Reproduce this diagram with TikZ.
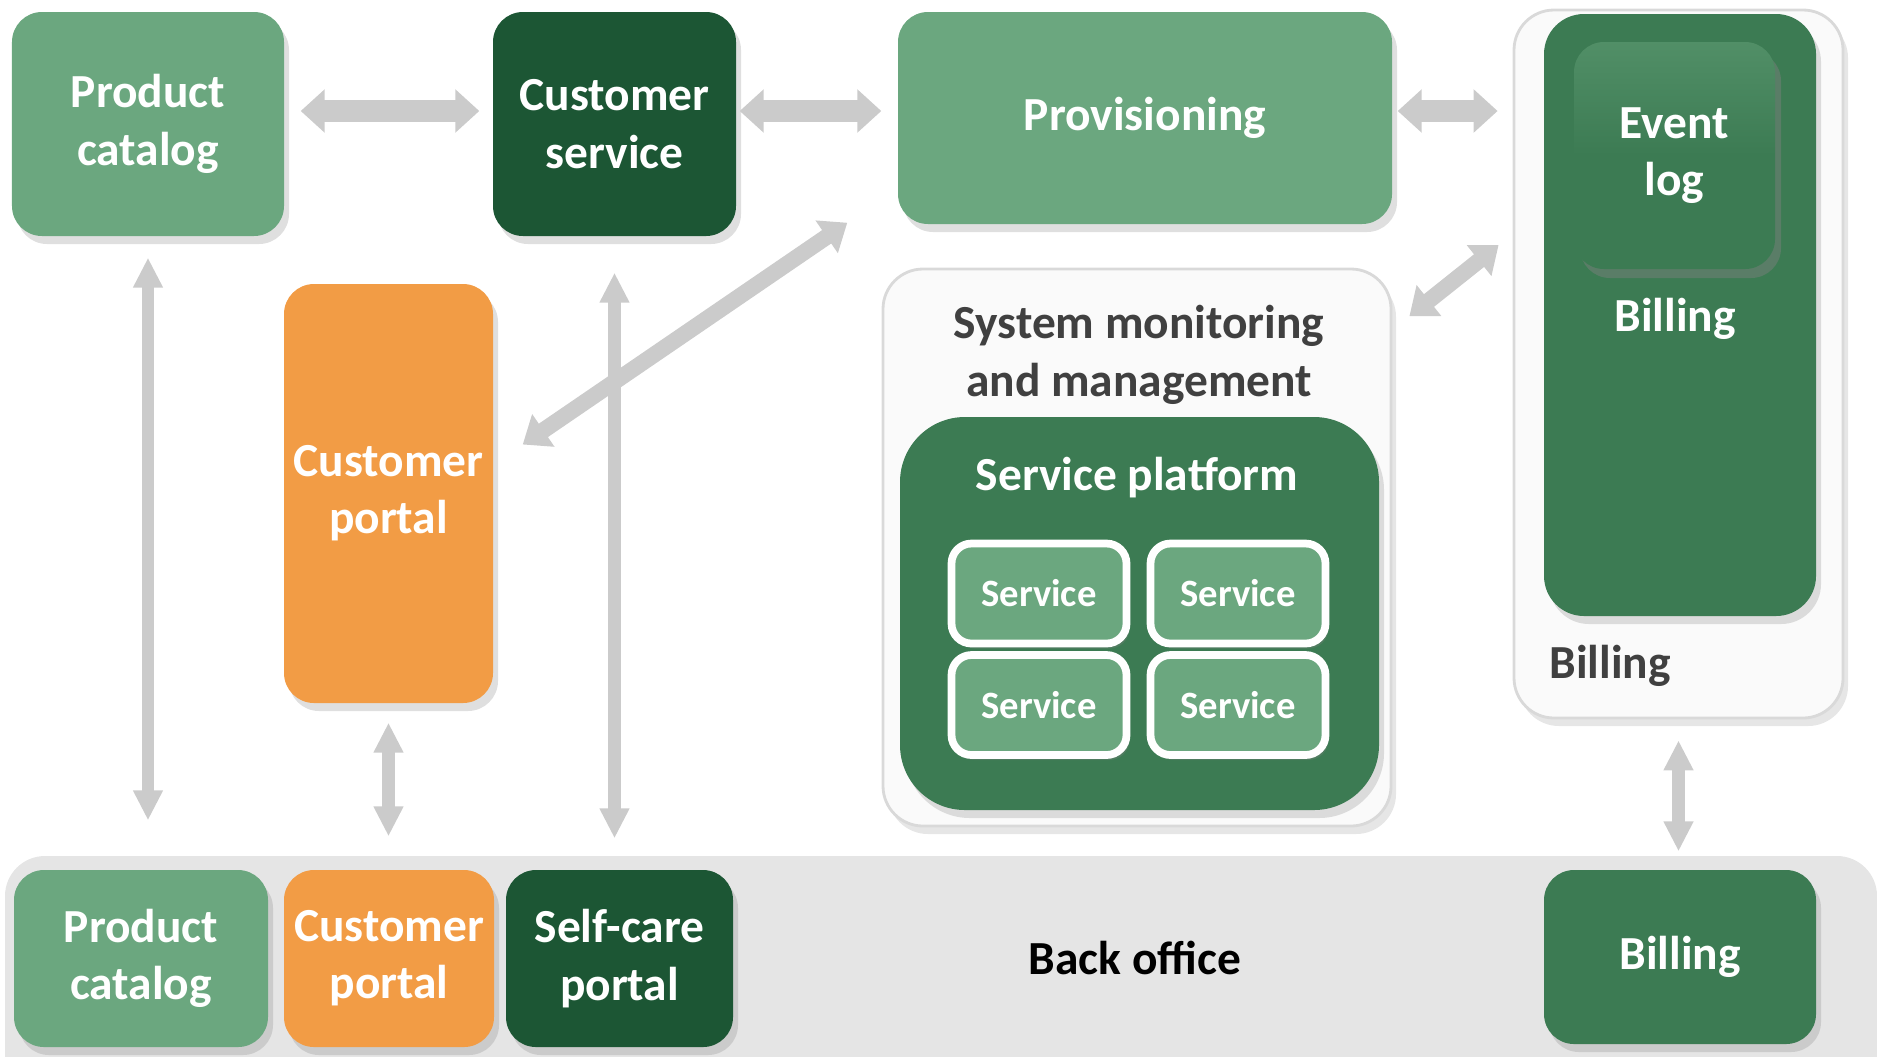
\documentclass[tikz,border=0pt]{standalone}
\usepackage{fontspec}
\setmainfont{Carlito}
\usetikzlibrary{arrows.meta,shadows}

\definecolor{leafgreen}{HTML}{6BA77F}
\definecolor{pinegreen}{HTML}{1C5634}
\definecolor{ferngreen}{HTML}{3C7B53}
\definecolor{tangerine}{HTML}{F29C45}
\definecolor{arrowgray}{HTML}{CBCBCB}
\definecolor{bandgray}{HTML}{E5E5E5}
\definecolor{captiongray}{HTML}{404040}

\begin{document}
\begin{tikzpicture}[
    boxtext/.style={text=white,font=\fontsize{13.5}{16.3}\selectfont\bfseries,align=center,inner sep=1pt},
    lightbox/.style={boxtext,rectangle,rounded corners=3mm,fill=leafgreen,drop shadow={opacity=0.25,shadow xshift=0.5mm,shadow yshift=-0.8mm}},
    darkbox/.style={lightbox,fill=pinegreen},
    midbox/.style={lightbox,fill=ferngreen},
    orangebox/.style={lightbox,fill=tangerine},
    logbox/.style={boxtext,rectangle,rounded corners=3mm,top color=ferngreen!55!leafgreen,bottom color=ferngreen,middle color=ferngreen,drop shadow={opacity=0.45,shadow xshift=0.6mm,shadow yshift=-0.9mm}},
    whitebox/.style={rectangle,rounded corners=4mm,fill=black!2,draw=black!15,line width=0.8pt,drop shadow={opacity=0.2,shadow xshift=0.5mm,shadow yshift=-0.8mm}},
    svcbox/.style={boxtext,font=\fontsize{11}{13}\selectfont\bfseries,rectangle,rounded corners=2mm,fill=leafgreen,draw=white,line width=2.2pt,minimum width=1.75cm,minimum height=1cm,drop shadow={opacity=0.3,shadow xshift=0.3mm,shadow yshift=-0.5mm}},
    caption/.style={text=captiongray,font=\fontsize{13.5}{16.3}\selectfont\bfseries,align=center,inner sep=1pt},
    bigarrow/.style={draw=arrowgray,line width=6pt,{Triangle[length=2.4mm,width=4.2mm]}-{Triangle[length=2.4mm,width=4.2mm]}},
    slimarrow/.style={draw=arrowgray,line width=3.6pt,{Triangle[length=3mm,width=2.8mm]}-{Triangle[length=3mm,width=2.8mm]}},
    diagarrow/.style={draw=arrowgray,line width=4.6pt,{Triangle[length=2.5mm,width=3.8mm]}-{Triangle[length=2.5mm,width=3.8mm]}}
  ]
  \useasboundingbox (0,0) rectangle (18.77,-10.56);

  % back office band
  \fill[bandgray,rounded corners=4mm] (0.05,-8.56) rectangle (18.77,-11.2);

  % top row
  \node[lightbox,minimum width=2.72cm,minimum height=2.24cm] (catalog) at (1.48,-1.24) {Product\\catalog};
  \node[darkbox,minimum width=2.43cm,minimum height=2.24cm,right of=catalog,node distance=4.665cm] (custsvc) {Customer\\service};
  \node[lightbox,minimum width=4.94cm,minimum height=2.12cm] (prov) at (11.45,-1.18) {Provisioning};

  % billing column
  \node[whitebox,minimum width=3.29cm,minimum height=7.08cm] (billwrap) at (16.785,-3.64) {};
  \node[midbox,rounded corners=4mm,minimum width=2.72cm,minimum height=6.02cm] (billing) at (16.80,-3.15) {};
  \node[logbox,minimum width=2.01cm,minimum height=2.27cm] (eventlog) at (16.745,-1.555) {Event\\log};
  \node[boxtext] (billtxt) at (16.75,-3.19) {Billing};
  \node[caption] (billcap) at (16.1,-6.66) {Billing};

  % customer portal
  \node[orangebox,minimum width=2.09cm,minimum height=4.19cm] (portal) at (3.885,-4.935) {Customer\\portal};

  % monitoring and service platform
  \node[whitebox,minimum width=5.08cm,minimum height=5.57cm] (monitor) at (11.37,-5.475) {};
  \node[caption] (montxt) at (11.39,-3.55) {System monitoring\\and management};
  \node[midbox,rounded corners=6.5mm,minimum width=4.79cm,minimum height=3.93cm] (platform) at (11.395,-6.135) {};
  \node[boxtext] (plattxt) at (11.37,-4.78) {Service platform};
  \node[svcbox] (svc1) at (10.39,-5.935) {Service};
  \node[svcbox,right of=svc1,node distance=1.99cm] (svc2) {Service};
  \node[svcbox,below of=svc1,node distance=1.115cm] (svc3) {Service};
  \node[svcbox,right of=svc3,node distance=1.99cm] (svc4) {Service};

  % bottom row
  \node[lightbox,minimum width=2.54cm,minimum height=1.77cm] (catalog2) at (1.41,-9.585) {Product\\catalog};
  \node[orangebox,minimum width=2.10cm,minimum height=1.77cm,right of=catalog2,node distance=2.48cm] (portal2) {Customer\\portal};
  \node[darkbox,minimum width=2.27cm,minimum height=1.77cm,right of=portal2,node distance=2.305cm] (selfcare) {Self-care\\portal};
  \node[caption,text=black] (backoffice) at (11.35,-9.58) {Back office};
  \node[midbox,minimum width=2.72cm,minimum height=1.74cm] (billing2) at (16.80,-9.57) {Billing};

  % arrows
  \draw[bigarrow,shorten <=1.6mm,shorten >=1.3mm] ([yshift=1.3mm]catalog.east) -- ([yshift=1.3mm]custsvc.west);
  \draw[bigarrow,shorten <=0.3mm,shorten >=1.6mm] ([yshift=1.3mm]custsvc.east) -- ([yshift=1.3mm]custsvc.east -| prov.west);
  \draw[bigarrow,shorten <=0.5mm,shorten >=1.5mm] ([yshift=0.7mm]prov.east) -- ([yshift=0.7mm]prov.east -| billwrap.west);
  \draw[slimarrow,shorten <=2.1mm,shorten >=4.9mm] (catalog.south) -- (catalog.south |- catalog2.north);
  \draw[slimarrow,shorten <=3.6mm,shorten >=3.1mm] (custsvc.south) -- (custsvc.south |- selfcare.north);
  \draw[slimarrow,shorten <=1.9mm,shorten >=3.3mm] (portal.south) -- (portal.south |- portal2.north);
  \draw[slimarrow,shorten <=2.1mm,shorten >=1.8mm] (billwrap.south) -- (billwrap.south |- billing2.north);
  \draw[diagarrow] ([shift={(2.9mm,4.9mm)}]portal.east) -- ([shift={(-5mm,0.2mm)}]prov.south west);
  \draw[diagarrow] ([shift={(1.7mm,-4.85mm)}]monitor.north east) -- ([shift={(-1.4mm,11.9mm)}]billwrap.west);

\end{tikzpicture}
\end{document}
